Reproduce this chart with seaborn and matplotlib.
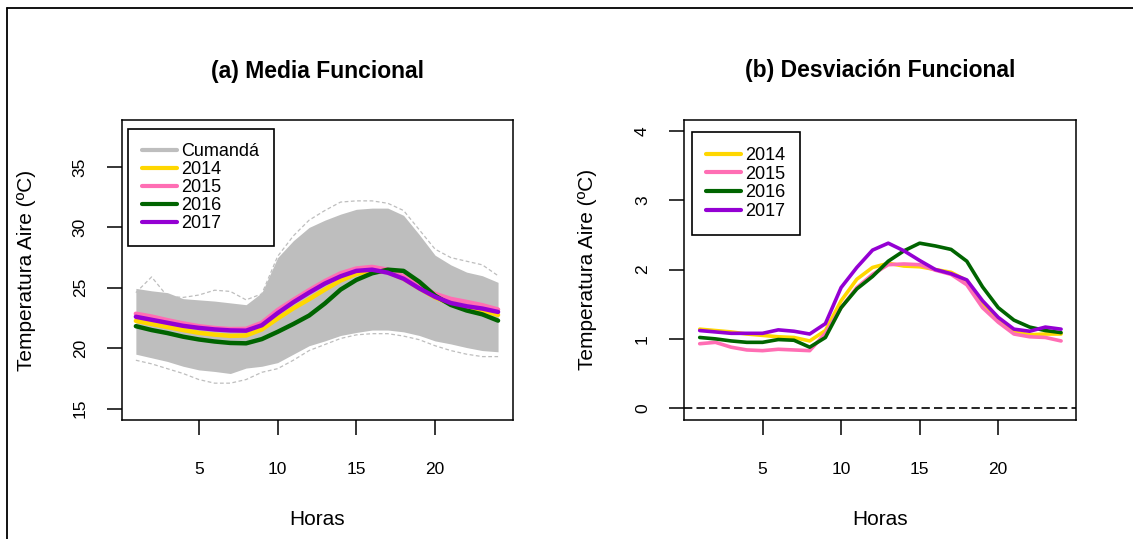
import numpy as np
import pandas as pd
import matplotlib
matplotlib.use("Agg")
import matplotlib.pyplot as plt
from matplotlib.lines import Line2D
import seaborn as sns

# Horas del dia
horas = list(range(1, 25))

# (a) Media funcional por anio
media_2014 = [22.26, 22.0, 21.75, 21.5, 21.27, 21.12, 21.02, 21.05, 21.55, 22.45, 23.3, 24.05,
              24.85, 25.6, 26.15, 26.42, 26.3, 25.75, 24.95, 24.2, 23.68, 23.4, 23.14, 22.75]
media_2015 = [22.85, 22.62, 22.32, 22.05, 21.82, 21.67, 21.58, 21.6, 22.1, 23.15, 24.0, 24.8,
              25.55, 26.2, 26.6, 26.73, 26.5, 25.95, 25.2, 24.5, 24.08, 23.83, 23.56, 23.2]
media_2016 = [21.82, 21.5, 21.25, 20.95, 20.72, 20.55, 20.43, 20.4, 20.75, 21.35, 22.0, 22.7,
              23.7, 24.85, 25.65, 26.2, 26.5, 26.4, 25.5, 24.35, 23.58, 23.12, 22.8, 22.28]
media_2017 = [22.6, 22.35, 22.1, 21.85, 21.68, 21.55, 21.47, 21.45, 21.9, 22.9, 23.8, 24.6,
              25.35, 25.95, 26.4, 26.5, 26.25, 25.75, 24.95, 24.25, 23.74, 23.47, 23.28, 23.0]

# Envolvente de las curvas diarias de Cumanda (banda gris)
banda_sup = [24.95, 24.75, 24.6, 24.1, 24.0, 23.9, 23.75, 23.6, 24.6, 27.5, 28.9, 30.0,
             30.6, 31.1, 31.5, 31.6, 31.6, 31.0, 29.4, 27.7, 26.9, 26.3, 26.0, 25.45]
banda_inf = [19.5, 19.2, 18.9, 18.5, 18.2, 18.07, 17.9, 18.35, 18.5, 18.8, 19.5, 20.2,
             20.6, 21.05, 21.3, 21.5, 21.5, 21.35, 21.05, 20.6, 20.35, 20.05, 19.8, 19.7]
# Curvas atipicas (se ven fuera de la banda)
atipica_alta = [24.6, 25.9, 24.3, 24.2, 24.4, 24.8, 24.7, 24.0, 24.5, 27.6, 29.3, 30.6,
                31.4, 32.1, 32.2, 32.2, 32.0, 31.4, 29.8, 28.2, 27.5, 27.2, 26.9, 26.0]
atipica_baja = [19.0, 18.7, 18.3, 17.9, 17.4, 17.1, 17.1, 17.4, 18.0, 18.3, 19.0, 19.8,
                20.3, 20.8, 21.1, 21.2, 21.2, 21.0, 20.7, 20.2, 19.8, 19.5, 19.3, 19.3]

# (b) Desviacion funcional por anio
desv_2014 = [1.14, 1.12, 1.10, 1.07, 1.05, 1.03, 1.02, 0.97, 1.12, 1.55, 1.86, 2.03,
             2.09, 2.05, 2.04, 2.0, 1.96, 1.84, 1.5, 1.29, 1.1, 1.06, 1.07, 1.07]
desv_2015 = [0.93, 0.95, 0.88, 0.84, 0.83, 0.85, 0.84, 0.83, 1.08, 1.45, 1.74, 1.93,
             2.07, 2.08, 2.07, 1.99, 1.93, 1.78, 1.45, 1.24, 1.07, 1.03, 1.02, 0.97]
desv_2016 = [1.02, 1.00, 0.97, 0.95, 0.95, 0.99, 0.98, 0.88, 1.02, 1.45, 1.72, 1.90,
             2.12, 2.27, 2.38, 2.34, 2.29, 2.12, 1.75, 1.45, 1.27, 1.17, 1.12, 1.09]
desv_2017 = [1.12, 1.10, 1.08, 1.08, 1.08, 1.13, 1.11, 1.07, 1.22, 1.74, 2.03, 2.28,
             2.38, 2.27, 2.13, 2.0, 1.94, 1.85, 1.55, 1.31, 1.14, 1.11, 1.17, 1.14]

anios = ["2014", "2015", "2016", "2017"]
colores = {"2014": "#FFD700", "2015": "#FF6EB4", "2016": "#006400", "2017": "#9400D3"}
gris = "#BEBEBE"

df_media = pd.DataFrame({
    "hora": horas * 4,
    "valor": media_2014 + media_2015 + media_2016 + media_2017,
    "anio": [a for a in anios for _ in horas],
})
df_desv = pd.DataFrame({
    "hora": horas * 4,
    "valor": desv_2014 + desv_2015 + desv_2016 + desv_2017,
    "anio": [a for a in anios for _ in horas],
})
df_atip = pd.DataFrame({
    "hora": horas * 2,
    "valor": atipica_alta + atipica_baja,
    "curva": ["alta"] * 24 + ["baja"] * 24,
})

sns.set_style("white")
plt.rcParams["font.family"] = ["Liberation Sans", "DejaVu Sans"]
plt.rcParams["text.color"] = "black"
plt.rcParams["axes.labelcolor"] = "black"

fig = plt.figure(figsize=(11.33, 5.39), dpi=100)
ax1 = fig.add_axes([0.1074, 0.2208, 0.3454, 0.5566])
ax2 = fig.add_axes([0.6037, 0.2208, 0.3460, 0.5570])

# marco exterior (solo arriba e izquierda visibles)
fig.add_artist(Line2D([0.0062, 1.0], [0.985, 0.985], color="black", lw=1.3))
fig.add_artist(Line2D([0.0062, 0.0062], [0.0, 0.985], color="black", lw=1.3))

# ---- (a) Media funcional ----
ax1.fill_between(horas, banda_inf, banda_sup, color=gris, lw=0, zorder=1)
sns.lineplot(data=df_atip, x="hora", y="valor", units="curva", estimator=None,
             color=gris, lw=0.9, linestyle=(0, (3, 2)), ax=ax1, zorder=1)
sns.lineplot(data=df_media, x="hora", y="valor", hue="anio", palette=colores,
             lw=3.2, legend=False, ax=ax1, zorder=3)
ax1.set_xlim(0.1, 24.95)
ax1.set_ylim(14.05, 38.9)
ax1.set_xticks([5, 10, 15, 20])
ax1.set_yticks([15, 20, 25, 30, 35])

h1 = [Line2D([], [], color=gris, lw=3)] + [Line2D([], [], color=colores[a], lw=3) for a in anios]
leg1 = ax1.legend(h1, ["Cumandá"] + anios, loc="upper left", bbox_to_anchor=(0.016, 0.97),
                  borderaxespad=0, fontsize=13, handlelength=1.9, handletextpad=0.25,
                  labelspacing=0.05, borderpad=0.8, fancybox=False, framealpha=1)
ax1.set_title("(a) Media Funcional", y=1.135, fontsize=16.5, fontweight="bold", va="center")

# ---- (b) Desviacion funcional ----
sns.lineplot(data=df_desv, x="hora", y="valor", hue="anio", palette=colores,
             lw=2.6, legend=False, ax=ax2, zorder=3)
ax2.axhline(0, color="black", lw=1.2, linestyle=(0, (5, 2.5)), zorder=2)
ax2.set_xlim(0.0, 24.95)
ax2.set_ylim(-0.17, 4.16)
ax2.set_xticks([5, 10, 15, 20])
ax2.set_yticks([0, 1, 2, 3, 4])

h2 = [Line2D([], [], color=colores[a], lw=3) for a in anios]
leg2 = ax2.legend(h2, anios, loc="upper left", bbox_to_anchor=(0.02, 0.958),
                  borderaxespad=0, fontsize=13, handlelength=1.9, handletextpad=0.25,
                  labelspacing=0.1, borderpad=0.8, fancybox=False, framealpha=1)
ax2.set_title("(b) Desviación Funcional", y=1.135, fontsize=16.5, fontweight="bold", va="center")

for ax, leg, xl in [(ax1, leg1, -0.242), (ax2, leg2, -0.247)]:
    leg.get_frame().set_edgecolor("black")
    leg.get_frame().set_linewidth(1.2)
    for txt in leg.get_texts():
        txt.set_color("black")
    for sp in ax.spines.values():
        sp.set_visible(True)
        sp.set_color("black")
        sp.set_linewidth(1.1)
    ax.tick_params(axis="both", direction="out", length=10.5, width=1.1,
                   color="black", labelsize=12.5, labelcolor="black",
                   bottom=True, left=True)
    ax.tick_params(axis="x", pad=20)
    ax.tick_params(axis="y", pad=14)
    for lab in ax.get_yticklabels():
        lab.set_rotation(90)
        lab.set_va("center")
    ax.set_xlabel("Horas", fontsize=15)
    ax.set_ylabel("Temperatura Aire (ºC)", fontsize=15)
    ax.xaxis.label.set_verticalalignment("center")
    ax.yaxis.label.set_verticalalignment("center")
    ax.xaxis.set_label_coords(0.5, -0.333)
    ax.yaxis.set_label_coords(xl, 0.5)

fig.savefig("out.png", dpi=100, facecolor="white")
